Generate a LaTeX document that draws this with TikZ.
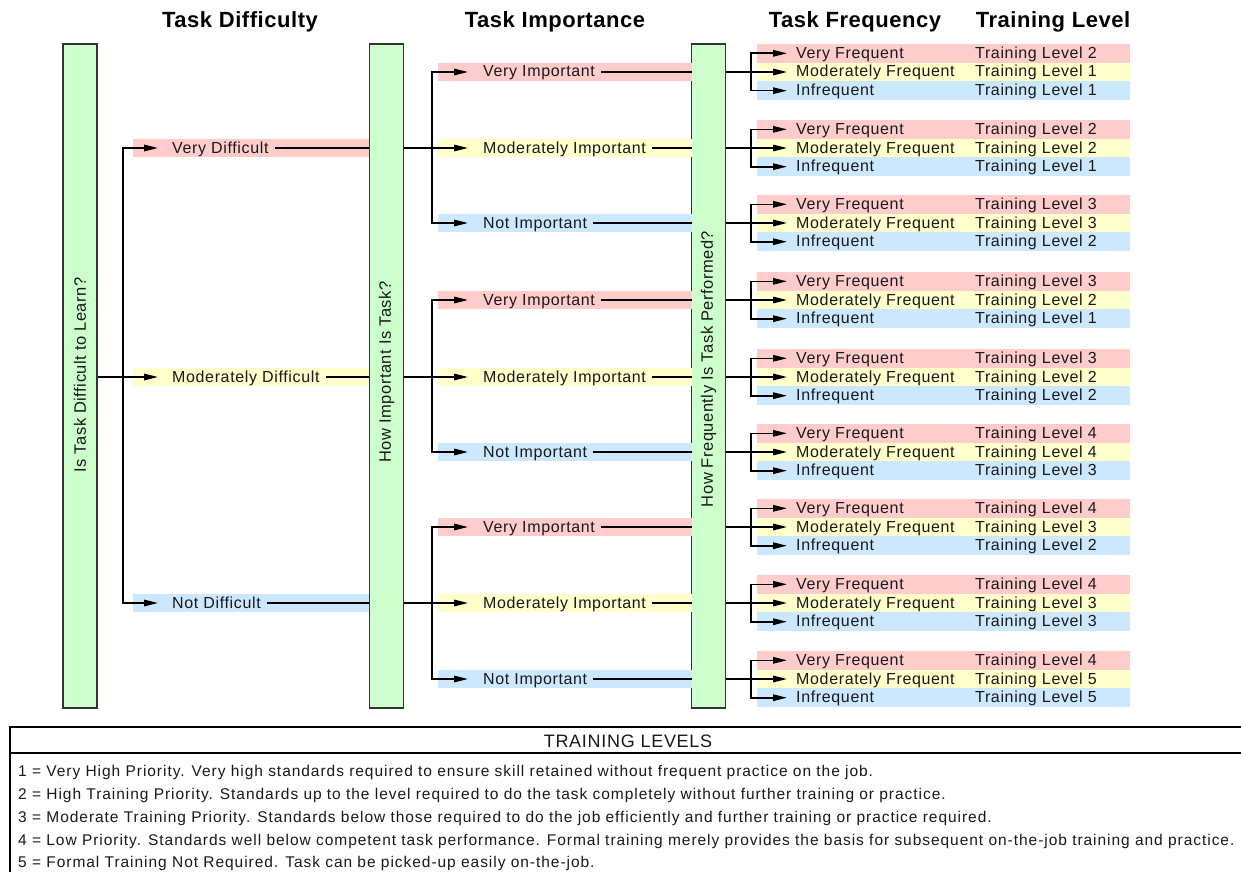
\documentclass[tikz,border=0pt]{standalone}
\usepackage{fontspec}
\setmainfont{Liberation Sans}
\newfontfamily\lblfont[LetterSpace=4]{Liberation Sans}
\newfontfamily\barfont[LetterSpace=3]{Liberation Sans}
\newfontfamily\keyfont[LetterSpace=6.2]{Liberation Sans}
\newfontfamily\headfont[LetterSpace=2.5]{Liberation Sans}
\usetikzlibrary{positioning,arrows.meta}
\definecolor{barg}{HTML}{CCFFCC}
\definecolor{bred}{HTML}{FFCCCC}
\definecolor{byel}{HTML}{FFFFCC}
\definecolor{bblu}{HTML}{CCE8FF}
\begin{document}
\begin{tikzpicture}[x=1pt,y=-1pt,
  qbar/.style={draw=black!80,line width=1.2pt,fill=barg,minimum width=34pt,minimum height=664pt,inner sep=0pt},
  qtxt/.style={rotate=90,inner sep=0pt,text=black!90,font=\barfont\fontsize{16.5}{20}\selectfont},
  band/.style={anchor=west,minimum height=18.7pt,inner sep=0pt,outer sep=0pt},
  lbl/.style={anchor=base west,inner sep=0pt,text=black!90,font=\lblfont\fontsize{16}{19}\selectfont},
  head/.style={font=\headfont\bfseries\fontsize{22}{26}\selectfont},
  branch/.style={line width=1.6pt},
  arr/.style={branch,-{Triangle[length=14pt,width=6.5pt]}},
  tail/.style={line width=1.2pt}
]
\useasboundingbox (0,0) rectangle (1241,872);
% headings
\node[head] (hD) at (240,22) {Task Difficulty};
\node[head] (hI) at (555,22) {Task Importance};
\node[head] (hF) at (855,22) {Task Frequency};
\node[head] (hT) at (1053,22) {Training Level};
% question bars
\node[qbar] (D) at (80,376) {};
\node[qbar] (I) at (386.5,376) {};
\node[qbar] (F) at (708.5,376) {};
\node[qtxt] (Dq) at (80,375) {Is Task Difficult to Learn?};
\node[qtxt] (Iq) at (386.5,372) {How Important Is Task?};
\node[qtxt] (Fq) at (708.5,369) {How Frequently Is Task Performed?};
% difficulty
\coordinate (Ds) at (123,377);
\draw[branch] (D.east |- Ds) -- (Ds);
\foreach \y/\c/\t [count=\i] in {148/bred/Very Difficult,377/byel/Moderately Difficult,603/bblu/Not Difficult}{
  \node[band,fill=\c,minimum width=236pt] (Db\i) at (133,\y) {};
  \node[lbl] (Dl\i) at (172,\y+5) {\t};
  \draw[arr] (Ds) |- ([xshift=25pt]Db\i.west);
  \draw[tail] ([xshift=6pt]Dl\i.east |- Db\i) -- (Db\i.east);
}
% importance
\foreach \y [count=\g] in {148,377,603}{
  \coordinate (Is\g) at (432,\y);
  \draw[branch] (I.east |- Is\g) -- (Is\g);
}
\foreach \y/\c/\t/\g [count=\j] in {72/bred/Very Important/1,148/byel/Moderately Important/1,223/bblu/Not Important/1,
    300/bred/Very Important/2,377/byel/Moderately Important/2,452/bblu/Not Important/2,
    527/bred/Very Important/3,603/byel/Moderately Important/3,679/bblu/Not Important/3}{
  \node[band,fill=\c,minimum width=254pt] (Ib\j) at (438,\y) {};
  \node[lbl] (Il\j) at (483,\y+5) {\t};
  \draw[arr] (Is\g) |- ([xshift=30pt]Ib\j.west);
  \draw[tail] ([xshift=6pt]Il\j.east |- Ib\j) -- (Ib\j.east);
}
% frequency and training level
\foreach \y/\a/\b/\c [count=\g] in {72/2/1/1,148/2/2/1,223/3/3/2,300/3/2/1,377/3/2/2,452/4/4/3,527/4/3/2,603/4/3/3,679/4/5/5}{
  \coordinate (Fs\g) at (751,\y);
  \draw[branch] (F.east |- Fs\g) -- (Fs\g);
  \foreach \dy/\col/\t/\lv [count=\k] in {-18.7/bred/Very Frequent/\a,0/byel/Moderately Frequent/\b,18.7/bblu/Infrequent/\c}{
    \node[band,fill=\col,minimum width=373pt] (Fb\g-\k) at (757,\y+\dy) {};
    \node[lbl] (Fl\g-\k) at (796,\y+\dy+5) {\t};
    \node[lbl] (Tl\g-\k) at (975,\y+\dy+5) {Training Level \lv};
    \draw[arr] (Fs\g) |- ([xshift=30pt]Fb\g-\k.west);
  }
}
% legend
\draw[line width=2pt] (10,872) -- (10,727) -- (1241,727);
\draw[line width=1.2pt] (10,753) -- (1241,753);
\node[font=\lblfont\fontsize{18}{22}\selectfont,text=black!90] (Lh) at (628,741) {TRAINING LEVELS};
\foreach \y/\t [count=\i] in {771/1 = Very High Priority. Very high standards required to ensure skill retained without frequent practice on the job.,
    794/2 = High Training Priority. Standards up to the level required to do the task completely without further training or practice.,
    817/3 = Moderate Training Priority. Standards below those required to do the job efficiently and further training or practice required.,
    840/4 = Low Priority. Standards well below competent task performance. Formal training merely provides the basis for subsequent on-the-job training and practice.,
    862/5 = Formal Training Not Required. Task can be picked-up easily on-the-job.}{
  \node[lbl,font=\keyfont\fontsize{15.5}{18}\selectfont] (L\i) at (18,\y+5.5) {\t};
}
\end{tikzpicture}
\end{document}
